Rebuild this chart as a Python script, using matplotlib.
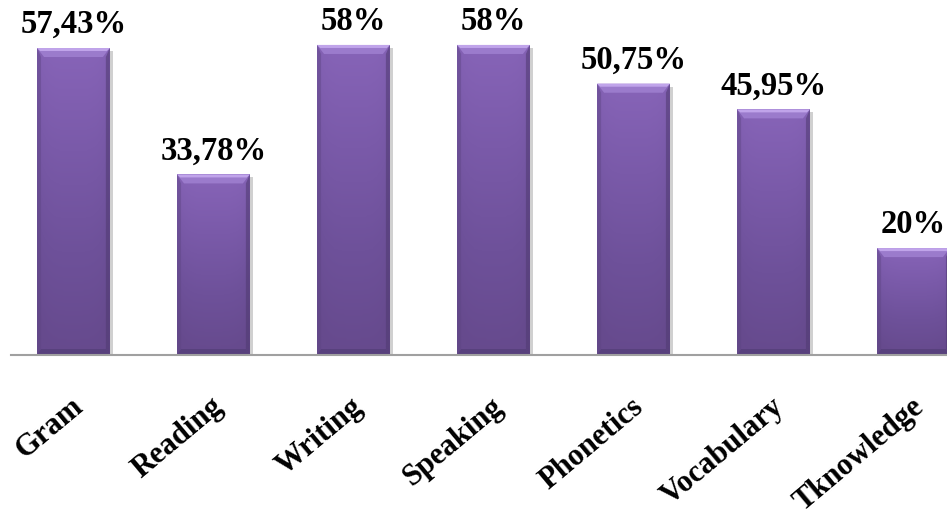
import numpy as np
import matplotlib
matplotlib.use("Agg")
import matplotlib.pyplot as plt
from matplotlib.patches import Polygon
from matplotlib.colors import LinearSegmentedColormap

categories = ["Gram", "Reading", "Writing", "Speaking", "Phonetics", "Vocabulary", "Tknowledge"]
values = [57.43, 33.78, 58, 58, 50.75, 45.95, 20]

W, H = 947, 510
DPI = 100
BASELINE_PX = 356       # pixel row of the category axis
LEFT_PX = 11
BAR_WIDTH = 0.52
XMIN, XMAX = -0.446, 6.239
YMAX = 66.6

plt.rcParams["font.family"] = ["Liberation Serif", "DejaVu Serif"]

fig = plt.figure(figsize=(W / DPI, H / DPI), dpi=DPI)
ax = fig.add_axes([LEFT_PX / W, (H - BASELINE_PX) / H, 1 - LEFT_PX / W, BASELINE_PX / H])
ax.set_xlim(XMIN, XMAX)
ax.set_ylim(0, YMAX)
ax.axis("off")

# pixel -> data unit helpers for the bevel geometry
px_x = (XMAX - XMIN) / (W - LEFT_PX)
px_y = YMAX / BASELINE_PX

body_cmap = LinearSegmentedColormap.from_list(
    "body", ["#8764b8", "#7a5aa9", "#6e519a", "#664a8d"])

x = np.arange(len(categories))
bars = ax.bar(x, values, width=BAR_WIDTH, color="#7658a4", edgecolor="none", zorder=2)

grad_v = np.linspace(0, 1, 256)[:, None]
grad_h = np.linspace(-1, 1, 64)[None, :]
for i, rect in enumerate(bars):
    x0, w, h = rect.get_x(), rect.get_width(), rect.get_height()
    x1 = x0 + w
    # soft drop shadow on the right
    ax.add_patch(Polygon([(x1, 0), (x1 + 3 * px_x, 0), (x1 + 3 * px_x, h - 3 * px_y), (x1, h - 3 * px_y)],
                         closed=True, facecolor="#d0d0d0", edgecolor="none", zorder=1))
    # vertical gradient body (light at top), slightly darker towards the sides
    img = grad_v + 0.12 * grad_h ** 4
    im = ax.imshow(np.clip(img, 0, 1), cmap=body_cmap, vmin=0, vmax=1, aspect="auto",
                   extent=(x0, x1, 0, h), origin="upper", zorder=3, interpolation="bilinear")
    im.set_clip_path(rect)

    bx, by = 7 * px_x, 9 * px_y
    sx = 4 * px_x
    # top bevel
    ax.add_patch(Polygon([(x0, h), (x1, h), (x1 - bx, h - by), (x0 + bx, h - by)],
                         closed=True, facecolor="#9b7bcc", edgecolor="none", zorder=4))
    ax.add_patch(Polygon([(x0, h), (x1, h), (x1 - 3 * px_x, h - 3 * px_y), (x0 + 3 * px_x, h - 3 * px_y)],
                         closed=True, facecolor="#c0a4ea", edgecolor="none", zorder=4))
    # side bevels
    ax.add_patch(Polygon([(x0, h), (x0 + sx, h - by), (x0 + sx, 6 * px_y), (x0, 0)],
                         closed=True, facecolor="#5e4584", edgecolor="none", alpha=0.45, zorder=4))
    ax.add_patch(Polygon([(x1, h), (x1 - sx, h - by), (x1 - sx, 6 * px_y), (x1, 0)],
                         closed=True, facecolor="#4f3a70", edgecolor="none", alpha=0.55, zorder=4))
    # bottom bevel
    ax.add_patch(Polygon([(x0, 0), (x1, 0), (x1 - sx, 6 * px_y), (x0 + sx, 6 * px_y)],
                         closed=True, facecolor="#503b73", edgecolor="none", alpha=0.6, zorder=4))

    label = f"{values[i]:g}".replace(".", ",") + "%"
    ax.annotate(label, xy=(x0 + w / 2, h), xytext=(0, 9), textcoords="offset pixels",
                ha="center", va="bottom", fontsize=23.5, fontweight="bold", color="black",
                annotation_clip=False, zorder=5)

    ax.annotate(categories[i], xy=(x0 + w / 2, 0), xytext=(-3, -36), textcoords="offset pixels",
                ha="right", va="top", rotation=40, rotation_mode="anchor",
                fontsize=22, fontweight="bold", color="black", annotation_clip=False)

# category axis line
ax.plot([XMIN, XMAX], [0, 0], color="#a0a0a0", lw=1.5, zorder=6, clip_on=False)

fig.savefig("out.png", dpi=DPI)
